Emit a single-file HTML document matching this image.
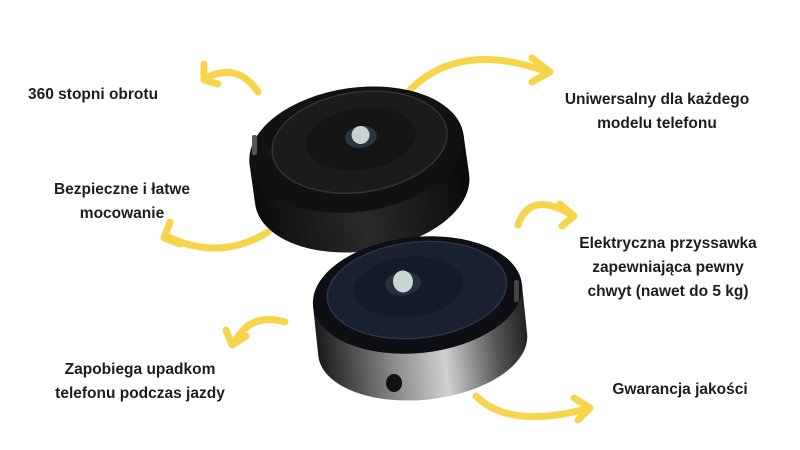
<!DOCTYPE html>
<html><head><meta charset="utf-8"><style>
html,body{margin:0;padding:0;background:#fff;width:800px;height:450px;overflow:hidden}
.t{position:absolute;font-family:"Liberation Sans",sans-serif;font-weight:bold;font-size:15.5px;color:#1d1d1d;text-align:center;line-height:24px;white-space:nowrap}
</style></head><body>
<svg width="800" height="450" style="position:absolute;left:0;top:0">
<defs>
<linearGradient id="side1" x1="0" x2="1"><stop offset="0" stop-color="#0c0c0c"/><stop offset="0.5" stop-color="#2a2a2a"/><stop offset="1" stop-color="#0a0a0a"/></linearGradient>
<linearGradient id="side2" x1="0" x2="1"><stop offset="0" stop-color="#1a1a1a"/><stop offset="0.35" stop-color="#8a8a8a"/><stop offset="0.6" stop-color="#d0d0d0"/><stop offset="0.85" stop-color="#555"/><stop offset="1" stop-color="#222"/></linearGradient>
</defs>
<g fill="none" stroke="#f6d54c" stroke-width="7" stroke-linecap="round" stroke-linejoin="round">
<path d="M258 92 Q238 62 206 78"/><path d="M204 64 L204 80 L218 84"/>
<path d="M410 90 Q460 40 548 72"/><path d="M532 58 L550 72 L532 82"/>
<path d="M268 232 Q220 262 166 236"/><path d="M170 222 L164 238 L180 244"/>
<path d="M518 225 Q530 190 572 215"/><path d="M560 204 L574 216 L562 226"/>
<path d="M285 322 Q250 312 234 343"/><path d="M226 330 L232 345 L246 336"/>
<path d="M476 396 Q510 430 590 408"/><path d="M574 398 L590 408 L578 420"/>
</g>
<!-- top device -->
<g transform="rotate(-8 355 160)">
<path d="M250 150 L250 190 A108 62 0 0 0 466 190 L466 150 Z" fill="url(#side1)"/>
<ellipse cx="358" cy="150" rx="108" ry="62" fill="#111"/>
<ellipse cx="362" cy="143" rx="88" ry="50" fill="#1b1b1b" stroke="#333" stroke-width="1.5"/>
<ellipse cx="364" cy="140" rx="55" ry="31" fill="#141414"/>
<ellipse cx="364" cy="138" rx="16" ry="11" fill="#2a3540"/>
<ellipse cx="364" cy="136" rx="9" ry="9" fill="#c8d4d4"/>
</g>
<rect x="252" y="135" width="5" height="20" rx="2" fill="#555"/>
<!-- bottom device -->
<g transform="rotate(-6 418 300)">
<path d="M313 295 L313 345 A105 55 0 0 0 523 345 L523 295 Z" fill="url(#side2)"/>
<ellipse cx="418" cy="295" rx="105" ry="58" fill="#0d0f14"/>
<ellipse cx="418" cy="290" rx="90" ry="48" fill="#1a2130" stroke="#2b3446" stroke-width="1.5"/>
<ellipse cx="410" cy="286" rx="55" ry="30" fill="#151b26"/>
<ellipse cx="405" cy="282" rx="18" ry="12" fill="#25303c"/>
<ellipse cx="405" cy="280" rx="10" ry="11" fill="#c5d6d4"/>
</g>
<ellipse cx="394" cy="383" rx="8" ry="9" fill="#111"/>
<rect x="514" y="280" width="5" height="22" rx="2" fill="#444"/>
</svg>
<div class="t" style="left:28px;top:83px;text-align:left">360 stopni obrotu</div>
<div class="t" style="left:537px;top:88px;width:240px">Uniwersalny dla każdego<br>modelu telefonu</div>
<div class="t" style="left:20px;top:178px;width:204px">Bezpieczne i łatwe<br>mocowanie</div>
<div class="t" style="left:550px;top:232px;width:236px">Elektryczna przyssawka<br>zapewniająca pewny<br>chwyt (nawet do 5 kg)</div>
<div class="t" style="left:20px;top:358px;width:240px">Zapobiega upadkom<br>telefonu podczas jazdy</div>
<div class="t" style="left:580px;top:378px;width:200px">Gwarancja jakości</div>
</body></html>
